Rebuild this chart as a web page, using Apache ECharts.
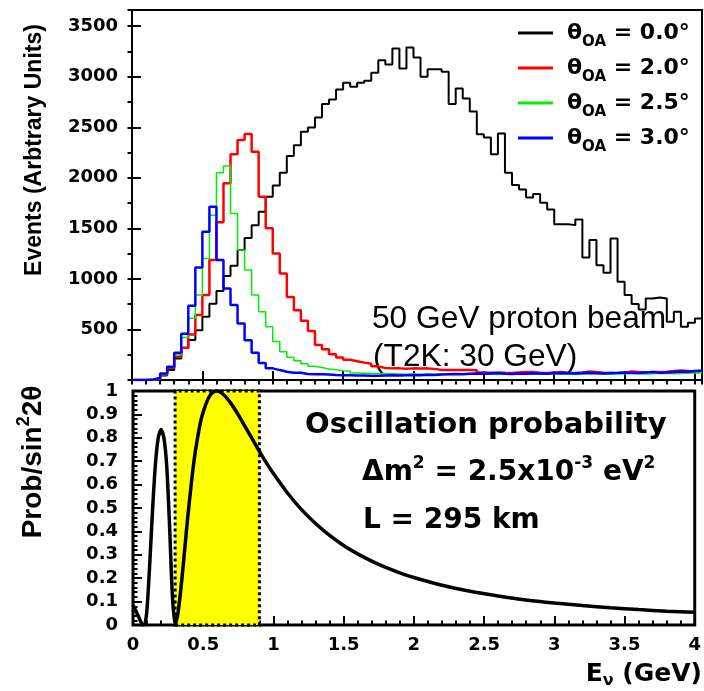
<!DOCTYPE html>
<html>
<head>
<meta charset="utf-8">
<script src="https://cdn.jsdelivr.net/npm/echarts@6/dist/echarts.min.js"></script>
<style>
  html, body { margin: 0; padding: 0; background: #fff; }
  #chart { width: 704px; height: 691px; }
</style>
</head>
<body>
<div id="chart"></div>
<script>
// Neutrino energy spectra, 0.05 GeV bins starting at 0 GeV
const energyBinWidth = 0.05;

const angleLabels = ['0.0', '2.0', '2.5', '3.0'];

const eventsOA00 = [0, 0, 0, 5, 45, 98, 213, 316, 395, 492,
  625, 755, 880, 1028, 1130, 1285, 1405, 1530, 1664, 1812,
  1923, 2051, 2216, 2323, 2455, 2498, 2597, 2729, 2775, 2874,
  2940, 2900, 2940, 2960, 3039, 3164, 3121, 3280, 3082, 3290,
  3190, 2999, 3075, 3075, 3049, 2729, 2884, 2785, 2655, 2432,
  2399, 2234, 2439, 2051, 1928, 1885, 1806, 1839, 1753, 1687,
  1540, 1540, 1532, 1588, 1212, 1384, 1136, 1061, 1400, 972,
  840, 751, 698, 807, 817, 807, 576, 675, 527, 566,
  609];

const eventsOA20 = [0, 0, 0, 15, 55, 120, 230, 320, 450, 642,
  840, 1186, 1560, 1945, 2234, 2374, 2433, 2257, 1812, 1500,
  1252, 1054, 820, 691, 585, 485, 345, 304, 255, 222,
  200, 185, 172, 160, 135, 118, 115, 115, 112, 115,
  113, 115, 110, 98, 98, 100, 98, 98, 96, 75,
  72, 75, 72, 70, 75, 80, 78, 72, 70, 75,
  80, 72, 70, 75, 85, 80, 72, 70, 68, 72,
  85, 80, 75, 80, 78, 82, 88, 95, 90, 80,
  88];

const eventsOA25 = [0, 0, 0, 10, 55, 130, 250, 420, 610, 840,
  1203, 1630, 2049, 2116, 1648, 1285, 1087, 840, 675, 527,
  380, 280, 225, 190, 160, 137, 124, 108, 102, 92,
  90, 70, 68, 66, 65, 62, 62, 60, 58, 60,
  58, 56, 58, 60, 55, 56, 58, 60, 62, 58,
  56, 55, 58, 60, 62, 60, 58, 56, 60, 62,
  58, 56, 55, 58, 62, 60, 58, 57, 60, 62,
  65, 62, 60, 63, 66, 64, 62, 65, 68, 70,
  72];

const eventsOA30 = [0, 0, 5, 20, 65, 131, 269, 458, 735, 1113,
  1466, 1713, 1186, 906, 741, 560, 392, 270, 167, 115,
  98, 82, 72, 72, 60, 58, 58, 55, 50, 48,
  48, 45, 45, 42, 42, 45, 48, 45, 48, 50,
  48, 52, 50, 55, 58, 60, 58, 62, 65, 62,
  65, 68, 62, 60, 65, 62, 66, 65, 62, 66,
  70, 68, 65, 70, 72, 68, 65, 70, 72, 75,
  72, 70, 75, 78, 72, 75, 80, 85, 82, 90,
  95];

// Oscillation probability (normalised by sin^2 2theta) vs neutrino energy
const probEnergy = [0, 0.02, 0.04, 0.055, 0.07, 0.085, 0.10, 0.12, 0.14, 0.16,
  0.18, 0.20, 0.22, 0.24, 0.26, 0.28, 0.30, 0.32, 0.34, 0.36,
  0.38, 0.40, 0.42, 0.44, 0.46, 0.48, 0.50, 0.53, 0.56, 0.60,
  0.65, 0.70, 0.75, 0.80, 0.85, 0.90, 0.95, 1.00, 1.1, 1.2,
  1.3, 1.4, 1.5, 1.6, 1.7, 1.8, 1.9, 2.0, 2.2, 2.4,
  2.6, 2.8, 3.0, 3.2, 3.4, 3.6, 3.8, 4.0];
const probValue = [0.085, 0.06, 0.035, 0.015, 0.0, 0.005, 0.07, 0.27, 0.50, 0.69,
  0.80, 0.835, 0.80, 0.68, 0.43, 0.13, 0.0, 0.05, 0.15, 0.27,
  0.40, 0.52, 0.63, 0.725, 0.80, 0.865, 0.91, 0.96, 0.99, 1.0,
  0.982, 0.945, 0.898, 0.846, 0.794, 0.742, 0.693, 0.647, 0.564, 0.493,
  0.434, 0.383, 0.34, 0.304, 0.273, 0.246, 0.223, 0.203, 0.17, 0.144,
  0.124, 0.107, 0.094, 0.083, 0.074, 0.066, 0.059, 0.054];

// Energy window highlighted under the probability curve (GeV)
const windowLow = 0.3;
const windowHigh = 0.9;

const histColors = ['#000000', '#ff0000', '#00ee00', '#0000ff'];
const histWidths = [2, 2.5, 1.5, 2.5];
const histValues = [eventsOA00, eventsOA20, eventsOA25, eventsOA30];

// left edge of each bin plus the closing right edge, for step drawing
function binSteps(values) {
  const pts = values.map((v, i) => [i * energyBinWidth, v]);
  pts.push([values.length * energyBinWidth, values[values.length - 1]]);
  return pts;
}

const seriesNames = angleLabels.map(a => 'θOA = ' + a + '°');

const labelFont = { fontFamily: 'DejaVu Sans', fontWeight: 'bold', fontSize: 18, color: '#000' };
const tickStyle = { color: '#000', width: 2 };

const histSeries = histValues.map((vals, i) => ({
  name: seriesNames[i],
  type: 'line',
  step: 'end',
  symbol: 'none',
  xAxisIndex: 0,
  yAxisIndex: 0,
  data: binSteps(vals),
  lineStyle: { color: histColors[i], width: histWidths[i] },
  itemStyle: { color: histColors[i] },
  z: 3 + i
}));

const probSeries = {
  name: 'prob',
  type: 'line',
  smooth: 0.25,
  symbol: 'none',
  xAxisIndex: 2,
  yAxisIndex: 2,
  data: probEnergy.map((e, i) => [e, probValue[i]]),
  lineStyle: { color: '#000', width: 3.5 },
  itemStyle: { color: '#000' },
  z: 5,
  markArea: {
    silent: true,
    itemStyle: { color: '#ffff00', borderColor: '#000', borderWidth: 3, borderType: [3, 3] },
    data: [[{ xAxis: windowLow }, { xAxis: windowHigh }]]
  }
};

const chart = echarts.init(document.getElementById('chart'), null, { renderer: 'canvas' });

chart.setOption({
  animation: false,
  backgroundColor: '#fff',
  grid: [
    { left: 132, top: 10, width: 570, height: 370, show: true, borderColor: '#000', borderWidth: 2, backgroundColor: 'transparent' },
    { left: 133, top: 391, width: 568, height: 234, show: true, borderColor: '#000', borderWidth: 3, backgroundColor: 'transparent' }
  ],
  xAxis: [
    { gridIndex: 0, type: 'value', min: 0, max: 4.05, interval: 0.5,
      axisLine: { show: false }, splitLine: { show: false }, axisLabel: { show: false },
      axisTick: { show: true, inside: true, length: 9, lineStyle: tickStyle } },
    { gridIndex: 0, type: 'value', min: 0, max: 4.05, interval: 0.1,
      axisLine: { show: false }, splitLine: { show: false }, axisLabel: { show: false },
      axisTick: { show: true, inside: true, length: 4.5, lineStyle: tickStyle } },
    { gridIndex: 1, type: 'value', min: 0, max: 4, interval: 0.5,
      axisLine: { show: false }, splitLine: { show: false },
      axisLabel: Object.assign({ margin: 11 }, labelFont),
      axisTick: { show: true, inside: true, length: 9, lineStyle: tickStyle },
      minorTick: { show: true, splitNumber: 5, length: 4.5, lineStyle: tickStyle } }
  ],
  yAxis: [
    { gridIndex: 0, type: 'value', min: 0, max: 3660, interval: 500,
      axisLine: { show: false }, splitLine: { show: false },
      axisLabel: Object.assign({ margin: 14, formatter: v => (v > 0 && v % 500 === 0) ? String(v) : '' }, labelFont),
      axisTick: { show: true, inside: true, length: 9, lineStyle: tickStyle } },
    { gridIndex: 0, type: 'value', min: 0, max: 3660, interval: 250,
      axisLine: { show: false }, splitLine: { show: false }, axisLabel: { show: false },
      axisTick: { show: true, inside: true, length: 4.5, lineStyle: tickStyle } },
    { gridIndex: 1, type: 'value', min: 0, max: 1, interval: 0.1,
      axisLine: { show: false }, splitLine: { show: false },
      axisLabel: Object.assign({ margin: 15 }, labelFont),
      axisTick: { show: true, inside: true, length: 9, lineStyle: tickStyle },
      minorTick: { show: true, splitNumber: 5, length: 4.5, lineStyle: tickStyle } }
  ],
  legend: {
    data: seriesNames,
    orient: 'vertical',
    left: 513,
    top: 17,
    icon: 'rect',
    itemWidth: 35,
    itemHeight: 3,
    itemGap: 7,
    selectedMode: false,
    formatter: name => '{th|θ}{sub|OA}{eq|' + name.slice(3) + '}',
    textStyle: {
      color: '#000',
      rich: {
        th: { fontFamily: 'DejaVu Sans', fontWeight: 'bold', fontSize: 22, padding: [0, 0, 0, 9], color: '#000' },
        sub: { fontFamily: 'DejaVu Sans', fontWeight: 'bold', fontSize: 15, padding: [19, 0, 0, 0], color: '#000' },
        eq: { fontFamily: 'DejaVu Sans', fontWeight: 'bold', fontSize: 22, color: '#000' }
      }
    }
  },
  graphic: [
    { type: 'text', x: 35, y: 150, rotation: Math.PI / 2,
      style: { text: 'Events (Arbtrary Units)', font: 'bold 23px "Liberation Sans"', fill: '#000', align: 'center', verticalAlign: 'middle' } },
    { type: 'text', x: 33, y: 462, rotation: Math.PI / 2,
      style: { text: '{a|Prob/sin}{s|2}{a|2θ}', align: 'center', verticalAlign: 'middle',
        rich: {
          a: { fontFamily: 'Liberation Sans', fontWeight: 'bold', fontSize: 28, fill: '#000' },
          s: { fontFamily: 'Liberation Sans', fontWeight: 'bold', fontSize: 18, padding: [0, 0, 18, 0], fill: '#000' }
        } } },
    { type: 'text', x: 372, y: 319,
      style: { text: '50 GeV proton beam', font: '31.7px "Liberation Sans"', fill: '#000', align: 'left', verticalAlign: 'middle' } },
    { type: 'text', x: 373, y: 357,
      style: { text: '(T2K: 30 GeV)', font: '31.7px "Liberation Sans"', fill: '#000', align: 'left', verticalAlign: 'middle' } },
    { type: 'text', x: 305, y: 425,
      style: { text: 'Oscillation probability', font: 'bold 29px "DejaVu Sans"', fill: '#000', align: 'left', verticalAlign: 'middle' } },
    { type: 'text', x: 362, y: 473,
      style: { text: '{a|Δm}{s|2}{a| = 2.5x10}{s|-3}{a| eV}{s|2}', align: 'left', verticalAlign: 'middle',
        rich: {
          a: { fontFamily: 'DejaVu Sans', fontWeight: 'bold', fontSize: 28, fill: '#000' },
          s: { fontFamily: 'DejaVu Sans', fontWeight: 'bold', fontSize: 17, padding: [0, 0, 18, 0], fill: '#000' }
        } } },
    { type: 'text', x: 363, y: 521,
      style: { text: 'L = 295 km', font: 'bold 28px "DejaVu Sans"', fill: '#000', align: 'left', verticalAlign: 'middle' } },
    { type: 'text', x: 702, y: 674,
      style: { text: '{a|E}{s|ν}{a| (GeV)}', align: 'right', verticalAlign: 'middle',
        rich: {
          a: { fontFamily: 'DejaVu Sans', fontWeight: 'bold', fontSize: 25, fill: '#000' },
          s: { fontFamily: 'DejaVu Sans', fontWeight: 'bold', fontSize: 16, padding: [14, 0, 0, 0], fill: '#000' }
        } } }
  ],
  series: histSeries.concat([probSeries])
});
</script>
</body>
</html>
